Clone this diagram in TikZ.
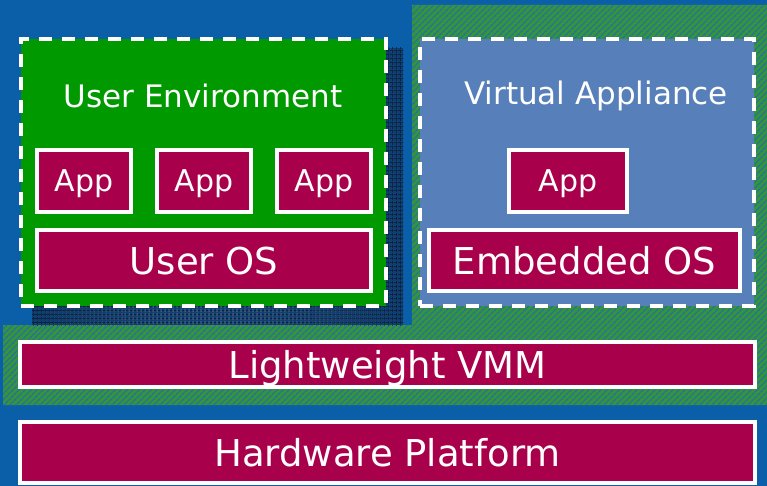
\documentclass[tikz,border=0pt]{standalone}
\usepackage{fontspec}
\setmainfont{DejaVu Sans}
\usepackage{tikz}
\usetikzlibrary{positioning,patterns,patterns.meta}
\definecolor{bgblue}{RGB}{11,94,168}
\definecolor{envgreen}{RGB}{0,153,0}
\definecolor{envblue}{RGB}{87,127,186}
\definecolor{crimson}{RGB}{168,0,74}
\definecolor{hatchgreen}{RGB}{52,150,52}
\definecolor{hatchblue}{RGB}{40,108,176}
\definecolor{shadownavy}{RGB}{16,62,112}
\definecolor{gridline}{RGB}{4,20,40}
\tikzset{layer/.style={draw=white, line width=4pt, fill=crimson, text=white,
           anchor=north west, inner sep=0pt, outer sep=0pt, text depth=0pt},
         envbox/.style={draw=white, line width=4pt, dash pattern=on 13pt off 10pt,
           anchor=north west, inner sep=0pt, outer sep=0pt},
         envlabel/.style={text=white, font=\fontsize{31}{31}\selectfont},
         small/.style={font=\fontsize{30}{30}\selectfont},
         big/.style={font=\fontsize{37}{37}\selectfont}}

\begin{document}
\begin{tikzpicture}[x=1pt,y=-1pt]
	  \useasboundingbox (0,0) rectangle (767,486);
	  \fill[bgblue] (0,0) rectangle (767,486);
	  \fill[hatchgreen] (412,5) -- (767,5) -- (767,405) -- (3,405) -- (3,325) -- (412,325) -- cycle;
	  \fill[pattern={Lines[angle=45,distance=4pt,line width=1.6pt]}, pattern color=hatchblue]
	    (412,5) -- (767,5) -- (767,405) -- (3,405) -- (3,325) -- (412,325) -- cycle;
	  \fill[shadownavy] (32,48) rectangle (403,325);
	  \fill[pattern={Lines[angle=0,distance=4pt,line width=0.6pt]}, pattern color=gridline] (32,48) rectangle (403,325);
	  \fill[pattern={Lines[angle=90,distance=4pt,line width=0.6pt]}, pattern color=gridline] (32,48) rectangle (403,325);
	  \node[envbox, fill=envgreen, minimum width=365pt, minimum height=267pt] (userenv) at (21,39) {};
	  \node[envbox, fill=envblue, minimum width=334pt, minimum height=267pt] (va) at (420,39) {};
	  \node[envlabel] (userenvlabel) at (203,96) {User Environment};
	  \node[envlabel] (valabel) at (596,96) {Virtual Appliance};
	  \node[layer, small, minimum width=94pt, minimum height=62pt] (app1) at (37,150) {App};
	  \node[layer, small, minimum width=94pt, minimum height=62pt] (app2) at (157,150) {App};
	  \node[layer, small, minimum width=94pt, minimum height=62pt] (app3) at (277,150) {App};
	  \node[layer, big, minimum width=334pt, minimum height=61pt] (useros) at (37,230) {User OS};
	  \node[layer, small, minimum width=118pt, minimum height=62pt] (vaapp) at (509,150) {App};
	  \node[layer, big, minimum width=311pt, minimum height=61pt] (embos) at (429,230) {Embedded OS};
	  \node[layer, big, minimum width=735pt, minimum height=45pt] (vmm) at (20,342) {Lightweight VMM};
	  \node[layer, big, minimum width=735pt, minimum height=61pt] (hw) at (20,422) {Hardware Platform};
	\end{tikzpicture}
\end{document}
